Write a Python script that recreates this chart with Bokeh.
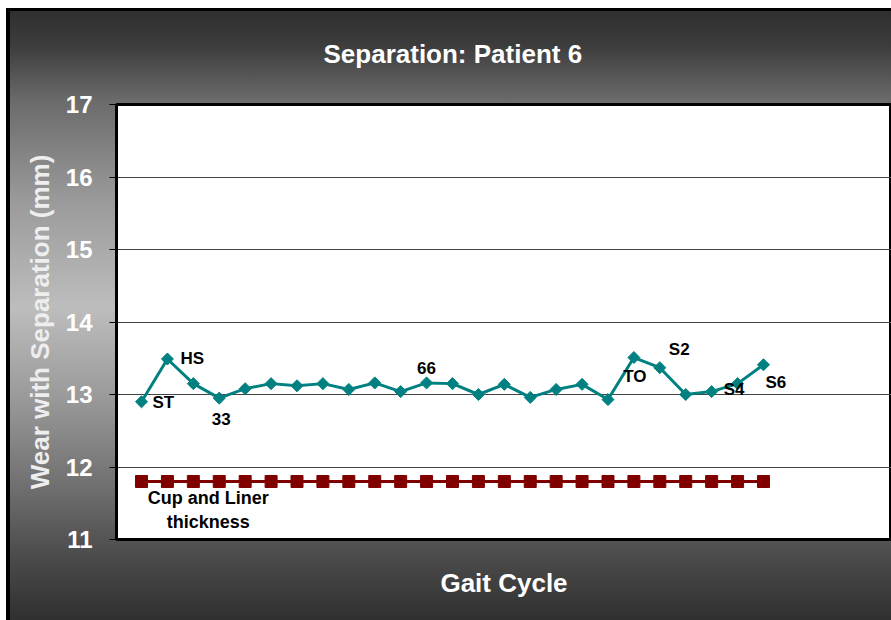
from bokeh.plotting import figure
from bokeh.models import ColumnDataSource, Range1d, FixedTicker
from bokeh.core.properties import value
from bokeh.embed import file_html
from bokeh.resources import INLINE

# ---- data ----
gait_points = [1, 2, 3, 4, 5, 6, 7, 8, 9, 10, 11, 12, 13, 14, 15, 16, 17, 18, 19, 20, 21, 22, 23, 24, 25]
separation = [12.90, 13.49, 13.15, 12.95, 13.08, 13.15, 13.12, 13.15, 13.07, 13.16, 13.04, 13.16, 13.15,
              13.00, 13.14, 12.96, 13.07, 13.14, 12.93, 13.51, 13.37, 13.00, 13.04, 13.15, 13.41]
cup_liner = [11.8, 11.8, 11.8, 11.8, 11.8, 11.8, 11.8, 11.8, 11.8, 11.8, 11.8, 11.8, 11.8,
             11.8, 11.8, 11.8, 11.8, 11.8, 11.8, 11.8, 11.8, 11.8, 11.8, 11.8, 11.8]
y_ticks = [11, 12, 13, 14, 15, 16, 17]

title_text = "Separation: Patient 6"
point_labels = ["ST", "HS", "33", "66", "TO", "S2", "S4", "S6"]
label_points = [1, 2, 4, 12, 20, 21, 23, 25]
cup_label = "Cup and Liner\nthickness"
cup_label_point = 3

# ---- styling of labels (screen offsets) ----
lab_xoff = [11, 13, 2, 0, 1, 9, 12, 2]
lab_yoff = [1, 0, 21, -15, 19, -18, -2, 18]
lab_align = ["left", "left", "center", "center", "center", "left", "left", "left"]

FONT = "Liberation Sans"

p = figure(width=891, height=620, output_backend="svg", toolbar_location=None,
           x_range=Range1d(0.035, 29.94), y_range=Range1d(11, 17),
           min_border_left=116, min_border_right=0, min_border_top=101, min_border_bottom=81,
           border_fill_color=None, background_fill_color="white",
           outline_line_color="black", outline_line_width=3)

grad = ("linear-gradient(to bottom, #2e2e2e 0%, #3c3c3c 6%, #6a6a6a 15%, #999999 31%, "
        "#bdbdbd 49%, #999999 64%, #6a6a6a 80%, #4a4a4a 90%, #303030 100%)")
p.styles = {
    "background": ("linear-gradient(#000000, #000000) 6px 8px / 4px 612px no-repeat, "
                   "linear-gradient(#000000, #000000) 6px 8px / 885px 3px no-repeat, "
                   + grad + " 6px 8px / 885px 612px no-repeat, #ffffff"),
}

# title
p.title.text = title_text
p.title.align = "left"
p.title.offset = 207
p.title.text_font = FONT
p.title.text_font_size = "26px"
p.title.text_font_style = "bold"
p.title.text_color = "white"
p.title.standoff = 72

# y axis
p.yaxis.ticker = FixedTicker(ticks=y_ticks)
p.yaxis.minor_tick_line_color = None
p.yaxis.major_tick_in = 0
p.yaxis.major_tick_out = 7
p.yaxis.major_tick_line_color = "black"
p.yaxis.axis_line_color = "black"
p.yaxis.axis_line_width = 3
p.yaxis.major_label_standoff = 17
p.yaxis.major_label_text_font = FONT
p.yaxis.major_label_text_font_size = "24px"
p.yaxis.major_label_text_font_style = "bold"
p.yaxis.major_label_text_color = "white"
p.yaxis.axis_label = "Wear with Separation (mm)"
p.yaxis.axis_label_text_font = FONT
p.yaxis.axis_label_text_font_size = "26px"
p.yaxis.axis_label_text_font_style = "bold"
p.yaxis.axis_label_text_color = "#eeeeee"
p.yaxis.axis_label_standoff = 8

# bottom x axis (no tick labels)
xb = p.below[0]
xb.ticker = FixedTicker(ticks=[])
xb.major_tick_line_color = None
xb.minor_tick_line_color = None
xb.axis_line_color = "black"
xb.axis_line_width = 3
xb.axis_label = "Gait Cycle"
xb.axis_label_text_font = FONT
xb.axis_label_text_font_size = "26px"
xb.axis_label_text_font_style = "bold"
xb.axis_label_text_color = "white"
xb.axis_label_standoff = 28

p.xgrid.grid_line_color = None
p.ygrid.grid_line_color = "#444444"
p.ygrid.grid_line_width = 1

src = ColumnDataSource(dict(x=gait_points, sep=separation, cup=cup_liner))

# cup and liner thickness
p.line("x", "cup", source=src, line_color="#800000", line_width=3)
p.scatter("x", "cup", source=src, marker="square", size=12, fill_color="#800000", line_color="#800000")

# separation series
p.line("x", "sep", source=src, line_color="#008080", line_width=3)
p.scatter("x", "sep", source=src, marker="square", angle=0.785398, size=8.5,
          fill_color="#008080", line_color="#008080")

# point labels
lab_src = ColumnDataSource(dict(
    x=label_points,
    y=[separation[i - 1] for i in label_points],
    text=point_labels, xo=lab_xoff, yo=lab_yoff, al=lab_align))
p.text("x", "y", text="text", source=lab_src, x_offset="xo", y_offset="yo", text_align="al",
       text_baseline="middle", text_font=value(FONT), text_font_size="17px",
       text_font_style="bold", text_color="black")

p.text(x=[cup_label_point], y=[cup_liner[cup_label_point - 1]], text=[cup_label],
       x_offset=15, y_offset=28, text_align="center", text_baseline="middle",
       text_font=value(FONT), text_font_size="18px", text_font_style="bold",
       text_color="black", text_line_height=1.2)

open("out.html", "w").write(file_html(p, INLINE))
